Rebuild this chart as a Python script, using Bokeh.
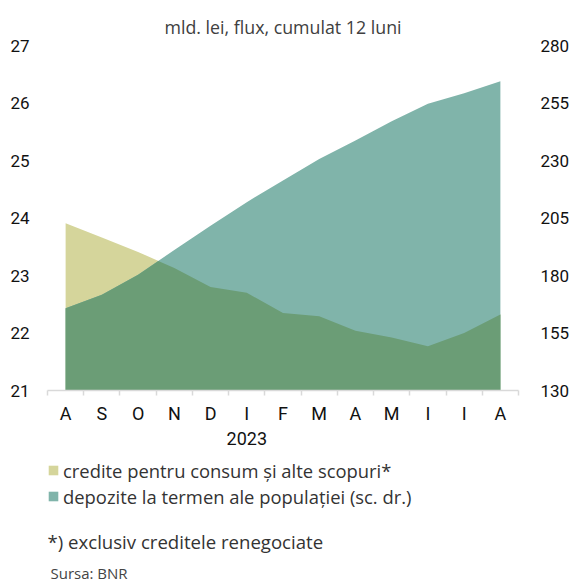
import numpy as np
from bokeh.plotting import figure
from bokeh.layouts import column
from bokeh.models import (Range1d, LinearAxis, FixedTicker, Legend, LegendItem, Title, Label)
from bokeh.embed import file_html
from bokeh.resources import INLINE

# ---- data ----
months = ["A", "S", "O", "N", "D", "I", "F", "M", "A", "M", "I", "I", "A"]
year_label = "2023"
year_index = 5
consum = [23.91, 23.66, 23.41, 23.13, 22.80, 22.70, 22.35, 22.29, 22.04, 21.92, 21.77, 22.00, 22.32]
depozite = [165.8, 171.6, 180.3, 191.1, 201.6, 211.9, 221.3, 230.7, 238.7, 247.1, 254.7, 259.2, 264.5]
left_ticks = [21, 22, 23, 24, 25, 26, 27]
right_ticks = [130, 155, 180, 205, 230, 255, 280]
series_names = ["credite pentru consum și alte scopuri*",
                "depozite la termen ale populației (sc. dr.)"]
title_text = "mld. lei, flux, cumulat 12 luni"
note_text = "*) exclusiv creditele renegociate"
source_text = "Sursa: BNR"

# ---- style ----
YELLOW = "#d5d59b"
TEAL = "#80b4aa"
DARK = "#6b9d76"
AXIS_GREY = "#d9d9d9"
TICK_FONT = "Roboto"
TEXT_FONT = "Open Sans"
W = 572
BL, BR = 47, 52          # left / right borders around the plot frame

left_lo, left_hi = left_ticks[0], left_ticks[-1]
right_lo, right_hi = right_ticks[0], right_ticks[-1]
x = np.arange(len(months))

p = figure(width=W, height=453,
           x_range=Range1d(-0.5, len(months) - 0.5),
           y_range=Range1d(left_lo, left_hi),
           output_backend="svg", toolbar_location=None,
           x_axis_location=None, y_axis_location=None,
           min_border_left=BL, min_border_right=BR, min_border_top=45,
           min_border_bottom=63)
p.extra_y_ranges = {"dep": Range1d(right_lo, right_hi)}
p.outline_line_color = None
p.xgrid.visible = False
p.ygrid.visible = False

# areas
r_c = p.varea(x=x, y1=left_lo, y2=consum, fill_color=YELLOW)
r_d = p.varea(x=x, y1=right_lo, y2=depozite, fill_color=TEAL, y_range_name="dep")

# overlap region (where both areas overlap), computed on the left scale
scale = (left_hi - left_lo) / (right_hi - right_lo)
c = np.array(consum, float)
d = left_lo + (np.array(depozite, float) - right_lo) * scale
xs = [float(x[0])]
ys = [float(min(c[0], d[0]))]
for i in range(len(x) - 1):
    f0 = c[i] - d[i]
    f1 = c[i + 1] - d[i + 1]
    if f0 * f1 < 0:
        t = f0 / (f0 - f1)
        xs.append(float(x[i] + t))
        ys.append(float(c[i] + t * (c[i + 1] - c[i])))
    xs.append(float(x[i + 1]))
    ys.append(float(min(c[i + 1], d[i + 1])))
p.varea(x=xs, y1=left_lo, y2=ys, fill_color=DARK)

# title
p.title = Title(text=title_text, align="center", text_font=TEXT_FONT,
                text_font_size="17.8px", text_font_style="normal",
                text_color="#404040", standoff=13)

# x axis
overrides = {int(i): m for i, m in enumerate(months)}
overrides[year_index] = months[year_index] + "\n" + year_label
xaxis = LinearAxis(
    ticker=FixedTicker(ticks=[int(i) for i in x],
                       minor_ticks=[float(i) - 0.5 for i in x] + [len(months) - 0.5]),
    major_label_overrides=overrides,
    axis_line_color=AXIS_GREY, axis_line_width=1.5,
    major_tick_line_color=None, major_tick_out=0, major_tick_in=0,
    minor_tick_line_color=AXIS_GREY, minor_tick_line_width=1.5,
    minor_tick_out=5, minor_tick_in=0,
    major_label_standoff=7,
    major_label_text_font=TICK_FONT, major_label_text_font_size="18px",
    major_label_text_color="#111111")
p.add_layout(xaxis, "below")

# left axis
laxis = LinearAxis(ticker=FixedTicker(ticks=left_ticks),
                   axis_line_color=None, major_tick_line_color=None,
                   minor_tick_line_color=None, major_tick_out=0, major_tick_in=0,
                   major_label_standoff=18,
                   major_label_text_font=TICK_FONT, major_label_text_font_size="17px",
                   major_label_text_color="#111111")
p.add_layout(laxis, "left")

# right axis
raxis = LinearAxis(y_range_name="dep", ticker=FixedTicker(ticks=right_ticks),
                   axis_line_color=None, major_tick_line_color=None,
                   minor_tick_line_color=None, major_tick_out=0, major_tick_in=0,
                   major_label_standoff=22,
                   major_label_text_font=TICK_FONT, major_label_text_font_size="17px",
                   major_label_text_color="#111111")
p.add_layout(raxis, "right")

# ---- lower panel: legend and notes (its frame is aligned with the chart's) ----
H2 = 128
q = figure(width=W, height=H2, x_range=Range1d(BL, W - BR), y_range=Range1d(0, H2),
           output_backend="svg", toolbar_location=None,
           x_axis_location=None, y_axis_location=None,
           min_border_left=BL, min_border_right=BR, min_border_top=0, min_border_bottom=0)
q.outline_line_color = None
q.xgrid.visible = False
q.ygrid.visible = False
# legend swatches (zero-size, outside the visible range)
sw_c = q.quad(left=[0], right=[0], bottom=[-10], top=[-10], fill_color=YELLOW, line_color=None)
sw_d = q.quad(left=[0], right=[0], bottom=[-10], top=[-10], fill_color=TEAL, line_color=None)

legend = Legend(items=[LegendItem(label=series_names[0], renderers=[sw_c]),
                       LegendItem(label=series_names[1], renderers=[sw_d])],
                location=(0, 72), orientation="vertical",
                glyph_width=12, glyph_height=12, label_standoff=4,
                padding=0, margin=0, spacing=0, label_height=26,
                border_line_color=None, background_fill_alpha=0,
                label_text_font=TEXT_FONT, label_text_font_size="18.4px",
                label_text_color="#333333")
q.add_layout(legend)

q.add_layout(Label(text=note_text, x=47, y=40,
                   text_baseline="middle", text_font=TEXT_FONT,
                   text_font_size="18.6px", text_color="#333333"))
q.add_layout(Label(text=source_text, x=50, y=9,
                   text_baseline="middle", text_font=TEXT_FONT,
                   text_font_size="15px", text_color="#444444"))

layout = column(p, q, spacing=0)
open("out.html", "w").write(file_html(layout, INLINE))
